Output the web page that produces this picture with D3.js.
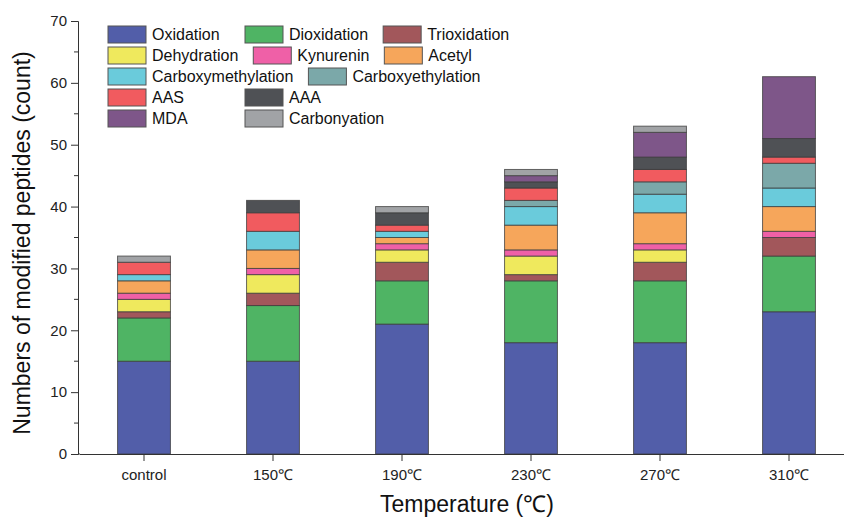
<!DOCTYPE html>
<html>
<head>
<meta charset="utf-8">
<script src="https://cdn.jsdelivr.net/npm/d3@7"></script>
<style>
  body { margin: 0; background: #fff; }
  svg { font-family: "Liberation Sans", Arial, sans-serif; }
</style>
</head>
<body>
<div id="chart"></div>
<script>
// data
var categories = ["control", "150℃", "190℃", "230℃", "270℃", "310℃"];
var seriesNames = ["Oxidation", "Dioxidation", "Trioxidation", "Dehydration", "Kynurenin", "Acetyl",
  "Carboxymethylation", "Carboxyethylation", "AAS", "AAA", "MDA", "Carbonyation"];
var oxidation          = [15, 15, 21, 18, 18, 23];
var dioxidation        = [7, 9, 7, 10, 10, 9];
var trioxidation       = [1, 2, 3, 1, 3, 3];
var dehydration        = [2, 3, 2, 3, 2, 0];
var kynurenin          = [1, 1, 1, 1, 1, 1];
var acetyl             = [2, 3, 1, 4, 5, 4];
var carboxymethylation = [1, 3, 1, 3, 3, 3];
var carboxyethylation  = [0, 0, 0, 1, 2, 4];
var aas                = [2, 3, 1, 2, 2, 1];
var aaa                = [0, 2, 2, 1, 2, 3];
var mda                = [0, 0, 0, 1, 4, 10];
var carbonyation       = [1, 0, 1, 1, 1, 0];
var yTicks = [0, 10, 20, 30, 40, 50, 60, 70];

var seriesValues = [oxidation, dioxidation, trioxidation, dehydration, kynurenin, acetyl,
  carboxymethylation, carboxyethylation, aas, aaa, mda, carbonyation];
var colors = ["#525ea9", "#4fb464", "#a2575b", "#efe95d", "#ef60a7", "#f6a65b",
  "#6acbdb", "#7ba8a9", "#f15b5f", "#4f5155", "#7e5689", "#a1a3a6"];

var svgWidth = 844;
var svgHeight = 517;
var margin = { top: 21, right: 0, bottom: 63, left: 78 };
var chartHeight = svgHeight - margin.top - margin.bottom;

var svg = d3.select("#chart").append("svg")
  .attr("width", svgWidth)
  .attr("height", svgHeight);

// build table for stacking
var table = categories.map(function(c, i) {
  var row = { cat: c };
  seriesNames.forEach(function(s, j) { row[s] = seriesValues[j][i]; });
  return row;
});
var stacked = d3.stack().keys(seriesNames)(table);

var x = d3.scaleBand()
  .domain(categories)
  .range([79.5, 853.5])
  .paddingInner(0.59)
  .paddingOuter(0.295);

var y = d3.scaleLinear()
  .domain([0, 70])
  .range([margin.top + chartHeight, margin.top]);

// bars
var layers = svg.append("g").selectAll("g")
  .data(stacked)
  .enter().append("g")
  .attr("fill", function(d, i) { return colors[i]; });

layers.selectAll("rect")
  .data(function(d) { return d.filter(function(p) { return p[1] - p[0] > 0; }); })
  .enter().append("rect")
  .attr("x", function(d) { return x(d.data.cat); })
  .attr("width", x.bandwidth())
  .attr("y", function(d) { return y(d[1]); })
  .attr("height", function(d) { return y(d[0]) - y(d[1]); })
  .attr("stroke", "#3a3a3a")
  .attr("stroke-opacity", 0.75)
  .attr("stroke-width", 1);

// y axis
var yAxis = d3.axisLeft(y).tickValues(yTicks).tickSize(7).tickPadding(4);
var gy = svg.append("g")
  .attr("transform", "translate(" + margin.left + ",0)")
  .call(yAxis);
gy.select(".domain").attr("stroke", "#333");
gy.selectAll(".tick line").attr("stroke", "#333");
gy.selectAll("text").attr("font-size", 15).attr("fill", "#222")
  .attr("font-family", "Liberation Sans, Arial, sans-serif");

// minor ticks
svg.append("g").selectAll("line")
  .data([5, 15, 25, 35, 45, 55, 65])
  .enter().append("line")
  .attr("x1", margin.left - 4).attr("x2", margin.left)
  .attr("y1", function(d) { return y(d); })
  .attr("y2", function(d) { return y(d); })
  .attr("stroke", "#333");

// x axis
var xAxis = d3.axisBottom(x).tickSize(7).tickPadding(8).tickSizeOuter(0);
var gx = svg.append("g")
  .attr("transform", "translate(0," + y(0) + ")")
  .call(xAxis);
gx.select(".domain").attr("stroke", "#333");
gx.selectAll(".tick line").attr("stroke", "#333");
gx.selectAll("text").attr("font-size", 15).attr("fill", "#222")
  .attr("font-family", "Liberation Sans, Arial, sans-serif");
// extend baseline to the left corner
svg.append("line")
  .attr("x1", margin.left).attr("x2", 80)
  .attr("y1", y(0)).attr("y2", y(0))
  .attr("stroke", "#333");

// axis titles
svg.append("text")
  .attr("transform", "translate(30,243) rotate(-90)")
  .attr("text-anchor", "middle")
  .attr("font-size", 23)
  .attr("fill", "#111")
  .text("Numbers of modified peptides (count)");

svg.append("text")
  .attr("x", 467)
  .attr("y", 512)
  .attr("text-anchor", "middle")
  .attr("font-size", 23)
  .attr("fill", "#111")
  .text("Temperature (℃)");

// legend
var legendRows = [
  ["Oxidation", "Dioxidation", "Trioxidation"],
  ["Dehydration", "Kynurenin", "Acetyl"],
  ["Carboxymethylation", "Carboxyethylation"],
  ["AAS", "AAA"],
  ["MDA", "Carbonyation"]
];
var colX = [108, 245, 383];
var legend = svg.append("g");
legendRows.forEach(function(row, r) {
  var prevEnd = 0;
  row.forEach(function(name, c) {
    var lx = Math.max(colX[c], prevEnd + 15);
    var ly = 26 + r * 21;
    var idx = seriesNames.indexOf(name);
    legend.append("rect")
      .attr("x", lx).attr("y", ly)
      .attr("width", 38).attr("height", 17)
      .attr("fill", colors[idx])
      .attr("stroke", "#555")
      .attr("stroke-width", 1);
    var t = legend.append("text")
      .attr("x", lx + 44).attr("y", ly + 14)
      .attr("font-size", 16)
      .attr("fill", "#111")
      .text(name);
    prevEnd = lx + 44 + t.node().getComputedTextLength();
  });
});
</script>
</body>
</html>
